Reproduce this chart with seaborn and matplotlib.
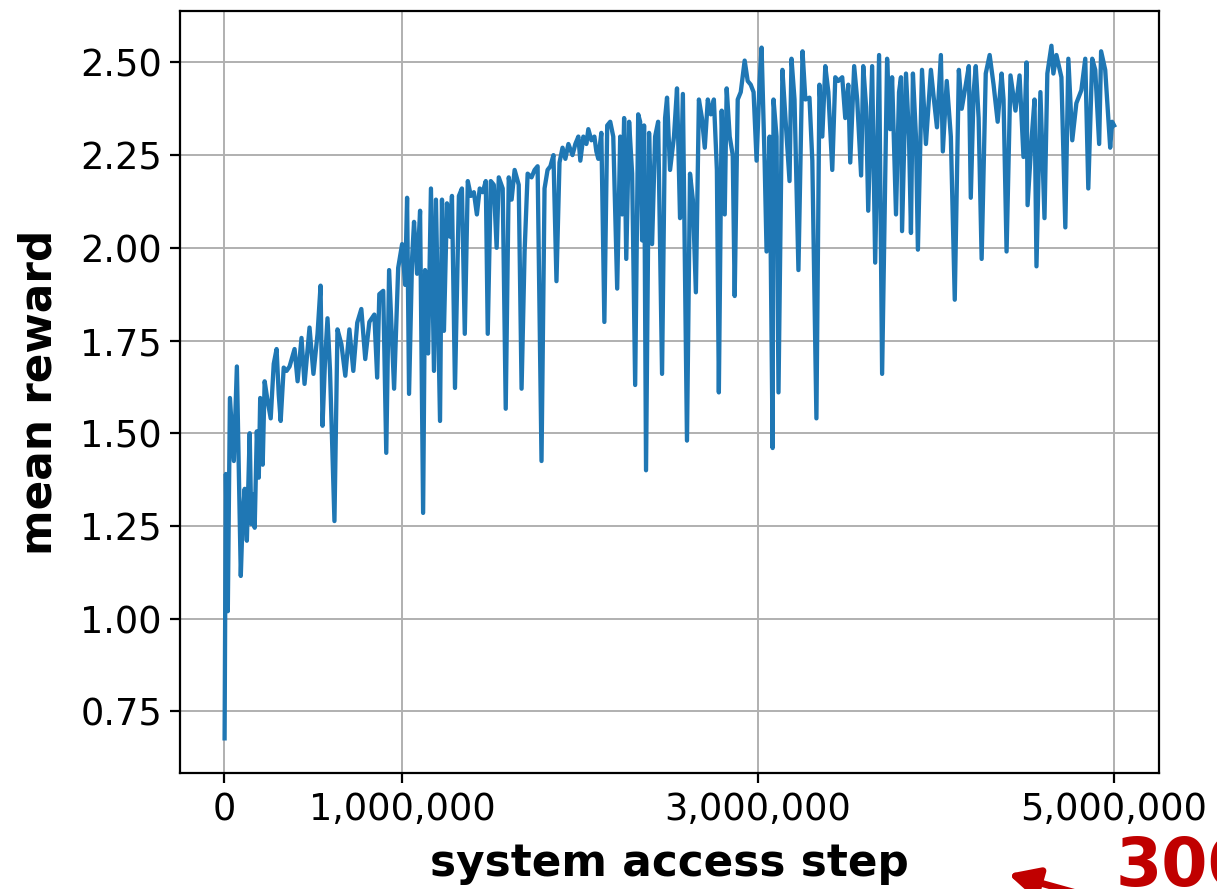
import matplotlib
matplotlib.use("Agg")
import matplotlib.pyplot as plt
import matplotlib.ticker as mticker
import numpy as np
import pandas as pd
import seaborn as sns

# training log: system access step (thousands) and mean reward
steps_k = [
    4, 11, 22, 34, 56, 73, 95, 106, 117, 129, 145, 154, 162, 173, 185, 196, 204, 218, 229, 243,
    263, 280, 296, 308, 319, 336, 352, 369, 397, 414, 436, 453, 481, 503, 526, 543, 554, 568, 582, 596,
    621, 638, 660, 682, 705, 727, 749, 772, 794, 817, 845, 861, 873, 895, 912, 928, 956, 979, 1001, 1018,
    1029, 1040, 1057, 1068, 1085, 1102, 1119, 1130, 1147, 1163, 1180, 1191, 1214, 1225, 1236, 1253, 1270, 1281, 1298, 1320,
    1337, 1353, 1370, 1387, 1404, 1421, 1437, 1454, 1471, 1482, 1499, 1516, 1532, 1544, 1566, 1583, 1600, 1616, 1633, 1656,
    1672, 1689, 1706, 1728, 1745, 1762, 1784, 1801, 1818, 1834, 1851, 1868, 1885, 1902, 1918, 1935, 1958, 1974, 1991,
    2002, 2019, 2036, 2047, 2064, 2081, 2092, 2103, 2120, 2137, 2153, 2170, 2187, 2209, 2226, 2237, 2248, 2260, 2276, 2293,
    2310, 2327, 2338, 2349, 2360, 2371, 2388, 2405, 2422, 2439, 2461, 2478, 2489, 2506, 2528, 2545, 2562, 2578, 2601, 2618,
    2634, 2651, 2668, 2685, 2701, 2718, 2735, 2752, 2769, 2780, 2796, 2813, 2824, 2841, 2858, 2869, 2886, 2903, 2925, 2942,
    2959, 2975, 2992, 3009, 3020,
    3037, 3048, 3065, 3082, 3087, 3104, 3115, 3137, 3154, 3177, 3188, 3205, 3227, 3250, 3266, 3289, 3305, 3328, 3345, 3361,
    3378, 3395, 3417, 3434, 3451, 3473, 3490, 3507, 3518, 3540, 3557, 3579, 3591, 3607, 3619, 3641, 3658, 3680, 3697, 3725,
    3742, 3753, 3775, 3792, 3803, 3809, 3831, 3848, 3859, 3870, 3887, 3898, 3921, 3943, 3960, 3971, 3988, 4005, 4027, 4038,
    4060,
    4083, 4105, 4128, 4144, 4167, 4184, 4195, 4211, 4223, 4239, 4256, 4279, 4301, 4323, 4346, 4368, 4379, 4396, 4418, 4446,
    4469, 4491, 4508, 4514, 4536, 4553, 4564, 4586, 4609, 4625, 4648, 4659, 4676, 4704, 4726, 4743, 4765, 4788, 4816, 4838,
    4855, 4877, 4894, 4916, 4927, 4950, 4978, 4989, 5000,
]

mean_reward = [
    0.677, 1.39, 1.02, 1.595, 1.425, 1.68, 1.115, 1.28, 1.35, 1.21, 1.50, 1.255, 1.335, 1.245, 1.505, 1.38, 1.595, 1.415, 1.64, 1.595,
    1.54, 1.687, 1.727, 1.605, 1.533, 1.677, 1.668, 1.68, 1.727, 1.64, 1.757, 1.633, 1.785, 1.66, 1.768, 1.898, 1.52, 1.695, 1.81, 1.67,
    1.263, 1.78, 1.74, 1.655, 1.78, 1.668, 1.798, 1.835, 1.70, 1.80, 1.82, 1.65, 1.875, 1.884, 1.447, 1.94, 1.62, 1.946, 2.01, 1.90,
    2.135, 1.606, 1.97, 2.07, 1.93, 2.10, 1.285, 1.94, 1.715, 2.16, 1.668, 2.13, 1.533, 2.13, 1.776, 2.12, 2.03, 2.14, 1.622, 2.14,
    2.16, 1.768, 2.18, 2.14, 2.15, 2.09, 2.16, 2.15, 2.18, 1.768, 2.18, 2.17, 2.00, 2.19, 2.16, 1.566, 2.19, 2.13, 2.21, 2.17,
    1.62, 1.99, 2.20, 2.19, 2.21, 2.22, 1.425, 2.16, 2.21, 2.22, 2.25, 1.91, 2.23, 2.27, 2.24, 2.28, 2.25, 2.28, 2.30,
    2.235, 2.30, 2.28, 2.32, 2.29, 2.30, 2.26, 2.24, 2.31, 1.80, 2.33, 2.34, 2.30, 1.89, 2.30, 2.09, 2.35, 1.97, 2.34, 2.20,
    1.63, 2.36, 2.34, 2.02, 2.33, 1.40, 2.31, 2.01, 2.30, 2.34, 1.66, 2.35, 2.405, 2.21, 2.30, 2.43, 2.08, 2.415, 1.48, 2.20,
    2.13, 1.88, 2.40, 2.35, 2.27, 2.40, 2.36, 2.40, 2.21, 1.61, 2.37, 2.09, 2.43, 2.30, 2.25, 1.87, 2.40, 2.42, 2.505, 2.45,
    2.44, 2.42, 2.235, 2.45, 2.54,
    2.235, 1.99, 2.30, 1.46, 2.40, 2.30, 1.61, 2.48, 2.35, 2.18, 2.51, 2.40, 1.94, 2.53, 2.40, 2.405, 2.235, 1.54, 2.44, 2.30,
    2.49, 2.42, 2.21, 2.46, 2.45, 2.46, 2.35, 2.44, 2.23, 2.49, 2.40, 2.195, 2.49, 2.38, 2.10, 2.49, 1.96, 2.52, 1.66, 2.51,
    2.32, 2.46, 2.09, 2.42, 2.46, 2.045, 2.47, 2.30, 2.04, 2.47, 2.30, 1.995, 2.48, 2.28, 2.40, 2.48, 2.40, 2.325, 2.52, 2.26,
    2.45,
    2.30, 1.86, 2.48, 2.375, 2.44, 2.49, 2.135, 2.42, 2.49, 2.35, 1.97, 2.47, 2.52, 2.44, 2.34, 2.47, 2.40, 1.99, 2.465, 2.37,
    2.465, 2.245, 2.50, 2.115, 2.29, 2.40, 1.95, 2.42, 2.08, 2.47, 2.545, 2.47, 2.52, 2.46, 2.055, 2.51, 2.29, 2.39, 2.425, 2.51,
    2.16, 2.51, 2.48, 2.28, 2.53, 2.48, 2.27, 2.34, 2.33,
]

x_ticks = [0, 1_000_000, 3_000_000, 5_000_000]
y_ticks = [0.75, 1.00, 1.25, 1.50, 1.75, 2.00, 2.25, 2.50]

df = pd.DataFrame({"step": np.array(steps_k) * 1000, "reward": mean_reward})

fig = plt.figure(figsize=(12.17, 8.89), dpi=100)
ax = fig.add_axes([0.148, 0.1305, 0.804, 0.857])

sns.lineplot(data=df, x="step", y="reward", ax=ax, color="#1f77b4", linewidth=3.1)

ax.set_xticks(x_ticks)
ax.set_yticks(y_ticks)
ax.xaxis.set_major_formatter(mticker.FuncFormatter(lambda v, p: f"{int(v):,}"))
ax.yaxis.set_major_formatter(mticker.FormatStrFormatter("%.2f"))
ax.tick_params(axis="both", labelsize=26.5, length=7, width=1.6, colors="black", pad=6)
for s in ax.spines.values():
    s.set_linewidth(1.6)
ax.grid(True, color="#b0b0b0", linewidth=1.4)
ax.set_axisbelow(True)

ax.set_xlabel("system access step", fontsize=31.5, fontweight="bold", labelpad=10)
ax.set_ylabel("mean reward", fontsize=31.5, fontweight="bold", labelpad=14)

# red call-out running off the lower right corner
fig.text(1116 / 1217, 3 / 889, "300", fontsize=48, fontweight="bold",
         color="#c00000", ha="left", va="baseline")
ax.annotate("", xy=(1008, 15), xytext=(1105, -12), xycoords="figure pixels",
            textcoords="figure pixels", annotation_clip=False,
            arrowprops=dict(arrowstyle="-|>", color="#c00000", lw=5,
                            mutation_scale=45, shrinkA=0, shrinkB=0))

fig.savefig("out.png", dpi=100)
